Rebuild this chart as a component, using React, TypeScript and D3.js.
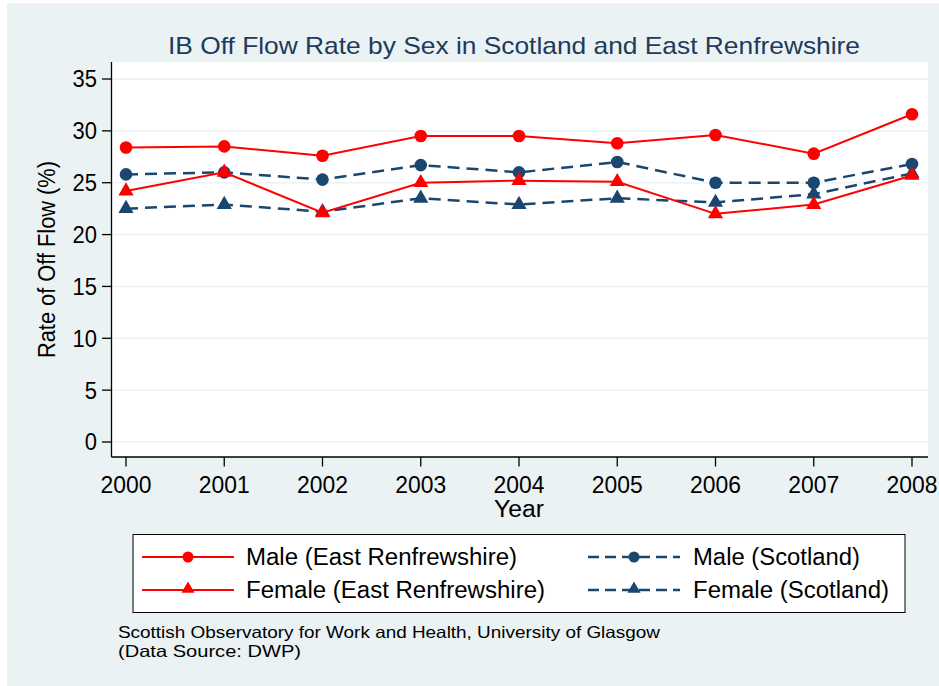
import React from "react";
import * as d3 from "d3";

const years = [2000, 2001, 2002, 2003, 2004, 2005, 2006, 2007, 2008];
const maleER = [28.4, 28.5, 27.6, 29.5, 29.5, 28.8, 29.6, 27.8, 31.6];
const femaleER = [24.2, 26.0, 22.1, 25.0, 25.2, 25.1, 22.0, 22.9, 25.7];
const maleScot = [25.8, 26.0, 25.3, 26.7, 26.0, 27.0, 25.0, 25.0, 26.8];
const femaleScot = [22.5, 22.9, 22.2, 23.5, 22.9, 23.5, 23.1, 23.9, 25.9];
const yTicks = [0, 5, 10, 15, 20, 25, 30, 35];
const legendLabels = [
  "Male (East Renfrewshire)",
  "Female (East Renfrewshire)",
  "Male (Scotland)",
  "Female (Scotland)",
];

const RED = "#ff0000";
const NAVY = "#1a476f";
const BG = "#eaf2f3";
const FONT = "'Liberation Sans', Arial, sans-serif";

export default function App() {
  const x = d3.scaleLinear().domain([2000, 2008]).range([126, 912]);
  const y = d3.scaleLinear().domain([0, 35]).range([442, 79]);
  const plot = { left: 111.5, right: 928, top: 62, bottom: 457 };

  const line = d3
    .line<number>()
    .x((_, i) => x(years[i]))
    .y((d) => y(d));

  const tri = (size: number) => d3.symbol(d3.symbolTriangle, size)() as string;

  const series = [
    { data: maleER, color: RED, dash: undefined, marker: "circle", w: 2 },
    { data: femaleER, color: RED, dash: undefined, marker: "tri", w: 2 },
    { data: maleScot, color: NAVY, dash: "12,7", marker: "circle", w: 2.5 },
    { data: femaleScot, color: NAVY, dash: "12,7", marker: "tri", w: 2.5 },
  ];

  const order = [3, 2, 1, 0];

  const legendPos = [
    { lx: 142, tx: 246, y: 557, tl: 271 },
    { lx: 142, tx: 246, y: 590, tl: 299 },
    { lx: 588, tx: 693, y: 557, tl: 167 },
    { lx: 588, tx: 693, y: 590, tl: 196 },
  ];

  const numW = (s: string) => s.length * 0.556 * 22;

  return (
    <svg
      width={939}
      height={686}
      style={{ position: "absolute", left: 0, top: 0 }}
      fontFamily={FONT}
    >
      <rect x={0} y={0} width={939} height={686} fill="#ffffff" />
      <rect x={7} y={3} width={932} height={683} fill={BG} />
      <text
        x={514}
        y={54}
        fontSize={24}
        fill="#1e3a5c"
        textAnchor="middle"
        textLength={692}
        lengthAdjust="spacingAndGlyphs"
      >
        IB Off Flow Rate by Sex in Scotland and East Renfrewshire
      </text>

      <rect
        x={plot.left}
        y={plot.top}
        width={plot.right - plot.left}
        height={plot.bottom - plot.top}
        fill="#ffffff"
      />
      {yTicks.map((t) => (
        <line
          key={"g" + t}
          x1={plot.left}
          x2={plot.right}
          y1={y(t)}
          y2={y(t)}
          stroke={BG}
          strokeWidth={1.5}
        />
      ))}

      <line x1={plot.left} x2={plot.left} y1={plot.top} y2={plot.bottom} stroke="#000" strokeWidth={1.3} />
      <line x1={plot.left} x2={plot.right} y1={plot.bottom} y2={plot.bottom} stroke="#000" strokeWidth={1.3} />
      {yTicks.map((t) => (
        <g key={"yt" + t}>
          <line x1={102} x2={plot.left} y1={y(t)} y2={y(t)} stroke="#000" strokeWidth={1.3} />
          <text
            x={97}
            y={y(t)}
            dy="0.36em"
            fontSize={23.5}
            textAnchor="end"
            fill="#000"
            textLength={numW(String(t))}
            lengthAdjust="spacingAndGlyphs"
          >
            {t}
          </text>
        </g>
      ))}
      {years.map((yr) => (
        <g key={"xt" + yr}>
          <line x1={x(yr)} x2={x(yr)} y1={plot.bottom} y2={466.5} stroke="#000" strokeWidth={1.3} />
          <text
            x={x(yr)}
            y={493}
            fontSize={23.5}
            textAnchor="middle"
            fill="#000"
            textLength={numW(String(yr)) + 2}
            lengthAdjust="spacingAndGlyphs"
          >
            {yr}
          </text>
        </g>
      ))}
      <text
        x={519}
        y={517}
        fontSize={23.5}
        textAnchor="middle"
        fill="#000"
        textLength={50}
        lengthAdjust="spacingAndGlyphs"
      >
        Year
      </text>
      <text
        transform={`translate(55,${(plot.top + plot.bottom) / 2}) rotate(-90)`}
        fontSize={23.5}
        textAnchor="middle"
        fill="#000"
        textLength={197}
        lengthAdjust="spacingAndGlyphs"
      >
        Rate of Off Flow (%)
      </text>

      {order.map((si) => {
        const s = series[si];
        return (
          <g key={"s" + si}>
            <path
              d={line(s.data) as string}
              fill="none"
              stroke={s.color}
              strokeWidth={s.w}
              strokeDasharray={s.dash}
            />
            {s.data.map((v, i) =>
              s.marker === "circle" ? (
                <circle key={i} cx={x(years[i])} cy={y(v)} r={6.3} fill={s.color} />
              ) : (
                <path
                  key={i}
                  d={tri(100)}
                  transform={`translate(${x(years[i])},${y(v)})`}
                  fill={s.color}
                />
              )
            )}
          </g>
        );
      })}

      <rect x={133} y={534.5} width={772} height={78} fill="#ffffff" stroke="#000" strokeWidth={1} />
      {series.map((s, i) => {
        const p = legendPos[i];
        return (
          <g key={"l" + i}>
            <line
              x1={p.lx}
              x2={p.lx + 92}
              y1={p.y}
              y2={p.y}
              stroke={s.color}
              strokeWidth={s.w}
              strokeDasharray={s.dash ? "11,6" : undefined}
            />
            {s.marker === "circle" ? (
              <circle cx={p.lx + 46} cy={p.y} r={5.5} fill={s.color} />
            ) : (
              <path d={tri(75)} transform={`translate(${p.lx + 46},${p.y - 1})`} fill={s.color} />
            )}
            <text
              x={p.tx}
              y={p.y}
              dy="0.36em"
              fontSize={23.5}
              fill="#000"
              textLength={p.tl}
              lengthAdjust="spacingAndGlyphs"
            >
              {legendLabels[i]}
            </text>
          </g>
        );
      })}

      <text x={118} y={638} fontSize={16.5} fill="#000" textLength={542} lengthAdjust="spacingAndGlyphs">
        Scottish Observatory for Work and Health, University of Glasgow
      </text>
      <text x={118} y={657} fontSize={16.5} fill="#000" textLength={183} lengthAdjust="spacingAndGlyphs">
        (Data Source: DWP)
      </text>
    </svg>
  );
}
